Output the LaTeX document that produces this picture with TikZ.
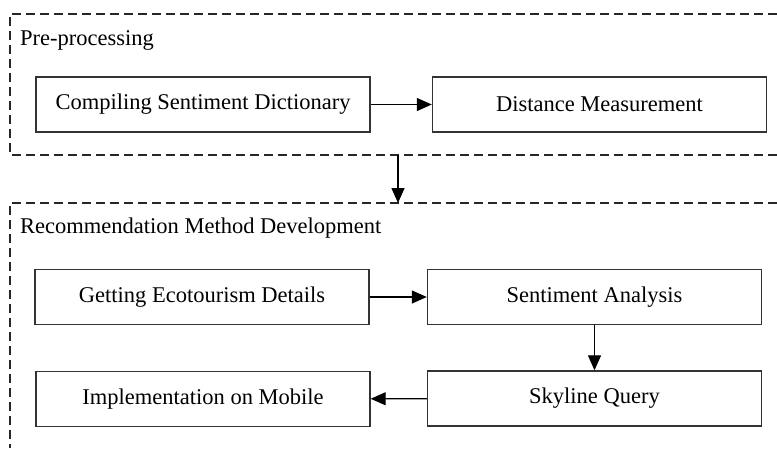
\documentclass[tikz,border=0pt]{standalone}
\usepackage{fontspec}
\setmainfont{Liberation Serif}
\usetikzlibrary{arrows.meta}
\begin{document}
\begin{tikzpicture}[x=1pt,y=-1pt,
  stepbox/.style={draw=black!80,line width=1.4pt,minimum width=334pt,minimum height=55pt,
    inner sep=0pt,font=\fontsize{22.5}{26}\selectfont},
  grouplabel/.style={anchor=west,inner sep=0pt,font=\fontsize{22.5}{26}\selectfont},
  groupline/.style={line width=1.5pt,dash pattern=on 9pt off 5pt,black!85},
  flow/.style={line width=1.3pt,-{Triangle[length=15pt,width=13pt]}}]
\useasboundingbox (0,0) rectangle (777,448);

% group outlines (open to the right and below)
\draw[groupline] (777,14) -- (10,14) -- (10,155) -- (777,155);
\draw[groupline] (777,203) -- (10,203) -- (10,448);
\node[grouplabel] (pre) at (20,40) {Pre-processing};
\node[grouplabel] (rec) at (20,228) {Recommendation Method Development};

% steps
\node[stepbox] (dict) at (203,104.5) {Compiling Sentiment Dictionary};
\node[stepbox] (dist) at (599.5,104.5) {Distance Measurement};
\node[stepbox] (eco)  at (202,297) {Getting Ecotourism Details};
\node[stepbox] (sent) at (594.5,297) {Sentiment Analysis};
\node[stepbox] (sky)  at (594.5,398.5) {Skyline Query};
\node[stepbox] (mob)  at (203,399) {Implementation on Mobile};

% link between the two groups
\coordinate (preS) at (398,155);
\coordinate (recN) at (398,203);

\draw[flow] (dict) -- (dist);
\draw[flow] (preS) -- (recN);
\draw[flow] (eco) -- (sent);
\draw[flow] (sent) -- (sky);
\draw[flow] (sky) -- (mob);
\end{tikzpicture}
\end{document}
